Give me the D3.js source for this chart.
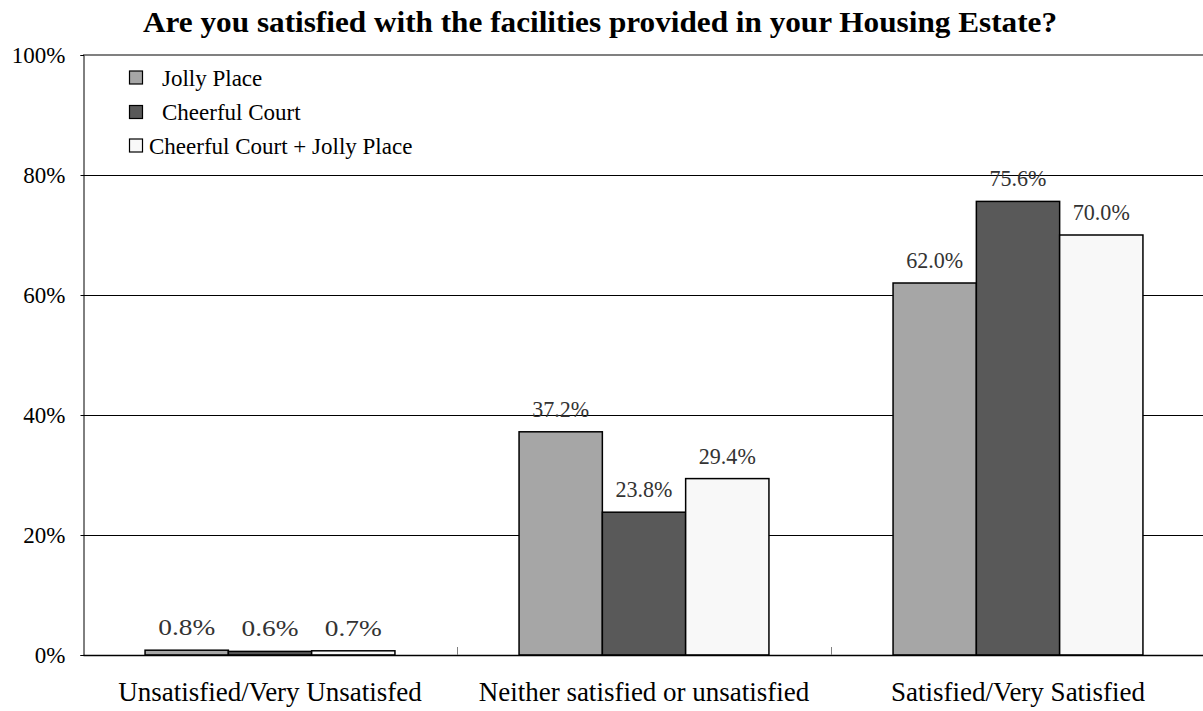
<!DOCTYPE html>
<html><head><meta charset="utf-8">
<script src="https://cdn.jsdelivr.net/npm/d3@7"></script>
<style>body{margin:0;background:#fff;}svg{display:block;font-family:"Liberation Serif","Times New Roman",serif;}</style>
</head><body>
<svg id="chart" width="1203" height="711"></svg>
<script>
const categories = ["Unsatisfied/Very Unsatisfed", "Neither satisfied or unsatisfied", "Satisfied/Very Satisfied"];
const seriesNames = ["Jolly Place", "Cheerful Court", "Cheerful Court + Jolly Place"];
const jollyPlace = [0.8, 37.2, 62.0];
const cheerfulCourt = [0.6, 23.8, 75.6];
const combined = [0.7, 29.4, 70.0];
const yTicks = [0, 20, 40, 60, 80, 100];
const colors = ["#a6a6a6", "#595959", "#f8f8f8"];
const title = "Are you satisfied with the facilities provided in your Housing Estate?";

const series = [jollyPlace, cheerfulCourt, combined];
const svg = d3.select("#chart");
const m = {left: 83, right: -2, top: 55, bottom: 56};
const W = 1203, H = 711;
const x0 = d3.scaleBand().domain(categories).range([m.left, W - m.right]).paddingInner(0).paddingOuter(0);
const x1 = d3.scaleBand().domain(seriesNames).range([0, x0.bandwidth()]).paddingOuter(0.745).paddingInner(0);
const y = d3.scaleLinear().domain([0, 100]).range([H - m.bottom, m.top]);

// title
svg.append("text").attr("x", 600).attr("y", 32).attr("text-anchor", "middle")
  .attr("font-size", 30).attr("font-weight", "bold")
  .attr("textLength", 914).attr("lengthAdjust", "spacingAndGlyphs").text(title);

// gridlines
svg.append("g").selectAll("line").data(yTicks.filter(t => t > 0 && t < 100)).join("line")
  .attr("x1", m.left).attr("x2", W).attr("y1", d => Math.round(y(d)) + 0.5).attr("y2", d => Math.round(y(d)) + 0.5)
  .attr("stroke", "#000").attr("stroke-width", 1);
svg.append("line").attr("x1", m.left).attr("x2", W).attr("y1", y(100)).attr("y2", y(100))
  .attr("stroke", "#808080").attr("stroke-width", 2);

// y axis
const yAxis = d3.axisLeft(y).tickValues(yTicks).tickFormat(d => d + "%").tickSize(3).tickPadding(15);
const gy = svg.append("g").attr("transform", `translate(${m.left + 0.5},0)`).call(yAxis);
gy.select(".domain").attr("stroke", "#000");
gy.selectAll(".tick line").attr("stroke", "#000");
gy.selectAll(".tick text").attr("font-size", 23).attr("font-family", "Liberation Serif").attr("fill", "#000");

// bars
const groups = svg.append("g").selectAll("g").data(categories).join("g")
  .attr("transform", d => `translate(${x0(d)},0)`);
groups.each(function(cat, ci) {
  const g = d3.select(this);
  seriesNames.forEach((s, si) => {
    const v = series[si][ci];
    g.append("rect").attr("x", x1(s)).attr("y", y(v)).attr("width", x1.bandwidth()).attr("height", y(0) - y(v))
      .attr("fill", colors[si]).attr("stroke", "#000").attr("stroke-width", 1.5);
    g.append("text").attr("x", x1(s) + x1.bandwidth() / 2).attr("y", y(v) - 15)
      .attr("text-anchor", "middle").attr("font-size", 24).attr("fill", "#333")
      .attr("textLength", 57).attr("lengthAdjust", "spacingAndGlyphs")
      .text(v.toFixed(1) + "%");
  });
});

// x axis
const xAxis = d3.axisBottom(x0).tickSize(0).tickPadding(27);
const gx = svg.append("g").attr("transform", `translate(0,${y(0)})`).call(xAxis);
gx.select(".domain").attr("stroke", "#000").attr("stroke-width", 1.5);
gx.selectAll(".tick text").attr("font-size", 27).attr("font-family", "Liberation Serif").attr("fill", "#000");
// category separator ticks
svg.append("g").selectAll("line").data(categories.slice(1)).join("line")
  .attr("x1", d => x0(d) + 0.5).attr("x2", d => x0(d) + 0.5).attr("y1", y(0)).attr("y2", y(0) - 8)
  .attr("stroke", "#808080").attr("stroke-width", 1);

// legend
const legend = svg.append("g");
const legendY = [77.5, 112, 145.5];
seriesNames.forEach((s, i) => {
  legend.append("rect").attr("x", 129.5).attr("y", legendY[i] - 6.5).attr("width", 13).attr("height", 13)
    .attr("fill", colors[i]).attr("stroke", "#000").attr("stroke-width", 1.2);
  legend.append("text").attr("x", i < 2 ? 162 : 149).attr("y", legendY[i] + 8)
    .attr("font-size", 23).attr("fill", "#000").text(s);
});
</script>
</body></html>
